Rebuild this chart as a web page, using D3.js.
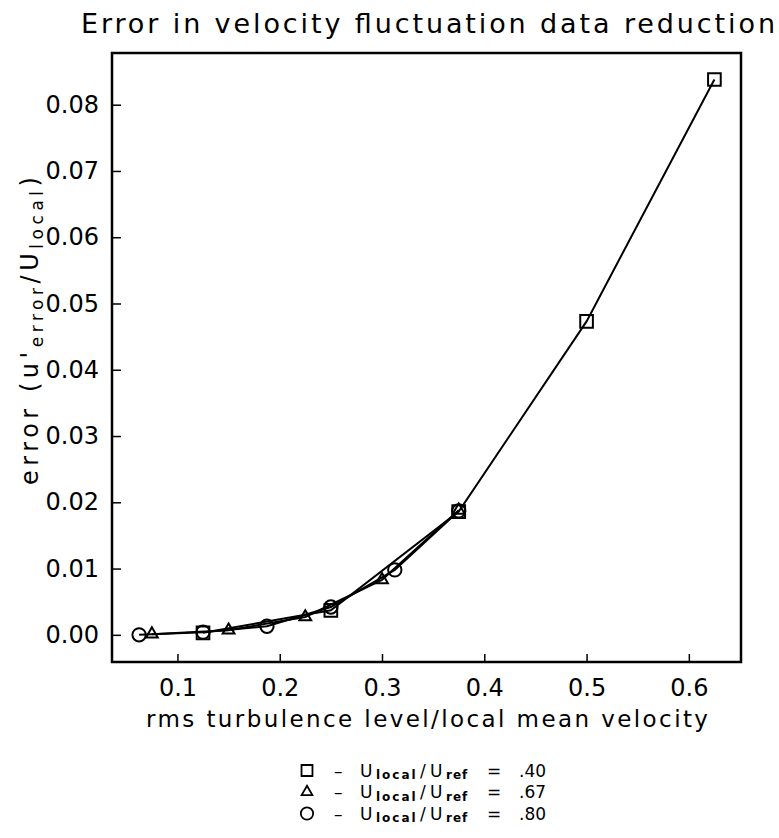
<!DOCTYPE html>
<html>
<head>
<meta charset="utf-8">
<script src="https://cdn.jsdelivr.net/npm/d3@7"></script>
<style>
  html, body { margin: 0; padding: 0; background: #fff; }
  svg { display: block; }
  text { font-family: "DejaVu Sans", sans-serif; fill: #000; }
</style>
</head>
<body>
<svg id="chart" width="779" height="838"></svg>
<script>
// ---------- data ----------
const xTicks = [0.1, 0.2, 0.3, 0.4, 0.5, 0.6];
const yTicks = [0.00, 0.01, 0.02, 0.03, 0.04, 0.05, 0.06, 0.07, 0.08];

const squareX = [0.125, 0.25, 0.375, 0.5, 0.625];
const squareY = [0.0003, 0.0037, 0.0186, 0.0473, 0.0838];

const triangleX = [0.075, 0.15, 0.225, 0.30, 0.375];
const triangleY = [0.0001, 0.0007, 0.0027, 0.0083, 0.0188];

const circleX = [0.0625, 0.125, 0.1875, 0.25, 0.3125, 0.375];
const circleY = [0.0000, 0.0004, 0.0013, 0.0042, 0.0098, 0.0187];

const legendSymbols = ["square", "triangle", "circle"];
const legendValues = [".40", ".67", ".80"];

const titleText = "Error in velocity fluctuation data reduction";
const xLabelText = "rms turbulence level/local mean velocity";

// ---------- layout ----------
const svg = d3.select("#chart");
const frame = { left: 112, right: 741, top: 53, bottom: 662 };

const x = d3.scaleLinear().domain([0.036, 0.651]).range([frame.left, frame.right]);
const y = d3.scaleLinear().domain([-0.0041, 0.0878]).range([frame.bottom, frame.top]);

// title
svg.append("text")
  .attr("x", 428).attr("y", 33)
  .attr("text-anchor", "middle")
  .attr("font-size", 27)
  .attr("textLength", 694).attr("lengthAdjust", "spacing")
  .text(titleText);

// axes
const xAxis = svg.append("g")
  .attr("transform", `translate(0,${frame.bottom})`)
  .call(d3.axisBottom(x).tickValues(xTicks).tickFormat(d3.format(".1f"))
        .tickSizeInner(-8).tickSizeOuter(0).tickPadding(17));
const yAxis = svg.append("g")
  .attr("transform", `translate(${frame.left},0)`)
  .call(d3.axisLeft(y).tickValues(yTicks).tickFormat(d3.format(".2f"))
        .tickSizeInner(-9).tickSizeOuter(0).tickPadding(13));
[xAxis, yAxis].forEach(g => {
  g.select(".domain").remove();
  g.selectAll(".tick line").attr("stroke", "#000").attr("stroke-width", 1.5);
  g.selectAll(".tick text").attr("font-size", 24).attr("font-family", "DejaVu Sans").attr("fill", "#000");
});

// frame
svg.append("rect")
  .attr("x", frame.left).attr("y", frame.top)
  .attr("width", frame.right - frame.left).attr("height", frame.bottom - frame.top)
  .attr("fill", "none").attr("stroke", "#000").attr("stroke-width", 2.5);

// x label
svg.append("text")
  .attr("x", 427).attr("y", 727)
  .attr("text-anchor", "middle")
  .attr("font-size", 23)
  .attr("textLength", 562).attr("lengthAdjust", "spacing")
  .text(xLabelText);

// y label
const yl = svg.append("text")
  .attr("transform", "translate(38,331) rotate(-90)")
  .attr("text-anchor", "middle")
  .attr("font-size", 24)
  .attr("textLength", 308).attr("lengthAdjust", "spacing");
yl.append("tspan").text("error  (u'");
yl.append("tspan").attr("font-size", 17).attr("dy", 5).text("error");
yl.append("tspan").attr("dy", -5).text("/U");
yl.append("tspan").attr("font-size", 17).attr("dy", 5).text("local");
yl.append("tspan").attr("dy", -5).text(")");

// series
const series = [
  { xs: squareX, ys: squareY, sym: d3.symbolSquare, size: 160 },
  { xs: triangleX, ys: triangleY, sym: d3.symbolTriangle, size: 60 },
  { xs: circleX, ys: circleY, sym: d3.symbolCircle, size: 140 }
];
const line = d3.line().x(d => x(d[0])).y(d => y(d[1]));
series.forEach(s => {
  const pts = s.xs.map((v, i) => [v, s.ys[i]]);
  svg.append("path").datum(pts)
    .attr("d", line).attr("fill", "none")
    .attr("stroke", "#000").attr("stroke-width", 2);
  svg.selectAll(null).data(pts).enter().append("path")
    .attr("transform", d => `translate(${x(d[0])},${y(d[1])})`)
    .attr("d", d3.symbol().type(s.sym).size(s.size))
    .attr("fill", "none").attr("stroke", "#000").attr("stroke-width", 2);
});

// legend
const symMap = { square: [d3.symbolSquare, 120], triangle: [d3.symbolTriangle, 50], circle: [d3.symbolCircle, 120] };
legendSymbols.forEach((name, i) => {
  const cy = 770.5 + i * 21.5;
  const base = cy + 6;
  svg.append("path")
    .attr("transform", `translate(307,${cy})`)
    .attr("d", d3.symbol().type(symMap[name][0]).size(symMap[name][1]))
    .attr("fill", "none").attr("stroke", "#000").attr("stroke-width", 1.8);
  const piece = (px, txt, size, weight, dy, ls) =>
    svg.append("text").attr("x", px).attr("y", base + dy)
      .attr("font-size", size).attr("font-weight", weight)
      .attr("letter-spacing", ls).text(txt);
  piece(334, "–", 17, "normal", 0, 0);
  piece(360, "U", 17, "normal", 0, 0);
  piece(376, "local", 12, "bold", 2.5, 2);
  piece(420, "/", 17, "normal", 0, 0);
  piece(430, "U", 17, "normal", 0, 0);
  piece(446, "ref", 12, "bold", 2.5, 1);
  piece(487, "=", 17, "normal", 0, 0);
  piece(519, legendValues[i], 17, "normal", 0, 0);
});
</script>
</body>
</html>
